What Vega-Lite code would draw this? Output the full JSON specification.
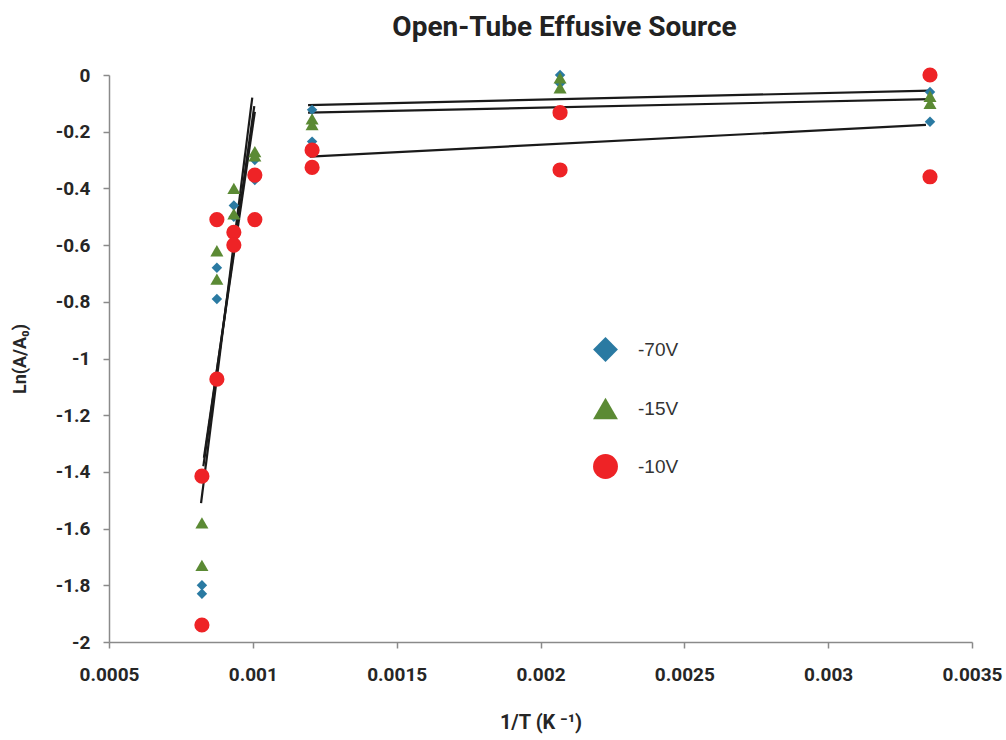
{
  "$schema": "https://vega.github.io/schema/vega-lite/v6.json",
  "autosize": {"type": "none"},
  "width": 863,
  "height": 567,
  "padding": {"left": 109, "top": 75, "right": 34, "bottom": 98},
  "background": "white",
  "config": {
    "view": {"stroke": null},
    "font": "Roboto, sans-serif"
  },
  "title": {
    "text": "Open-Tube Effusive Source",
    "font": "Roboto, sans-serif",
    "fontSize": 28,
    "fontWeight": "bold",
    "color": "#222222",
    "anchor": "middle",
    "dx": 24,
    "offset": 24
  },
  "datasets": {
    "pts": [
      {"s": "-70V", "x": 0.000823, "y": -1.80},
      {"s": "-70V", "x": 0.000823, "y": -1.83},
      {"s": "-70V", "x": 0.000875, "y": -0.68},
      {"s": "-70V", "x": 0.000875, "y": -0.79},
      {"s": "-70V", "x": 0.000934, "y": -0.46},
      {"s": "-70V", "x": 0.000934, "y": -0.50},
      {"s": "-70V", "x": 0.001007, "y": -0.30},
      {"s": "-70V", "x": 0.001007, "y": -0.37},
      {"s": "-70V", "x": 0.001206, "y": -0.123},
      {"s": "-70V", "x": 0.001206, "y": -0.235},
      {"s": "-70V", "x": 0.002068, "y": 0.0},
      {"s": "-70V", "x": 0.002068, "y": -0.03},
      {"s": "-70V", "x": 0.003354, "y": -0.06},
      {"s": "-70V", "x": 0.003354, "y": -0.165},
      {"s": "-15V", "x": 0.000823, "y": -1.58},
      {"s": "-15V", "x": 0.000823, "y": -1.73},
      {"s": "-15V", "x": 0.000875, "y": -0.62},
      {"s": "-15V", "x": 0.000875, "y": -0.72},
      {"s": "-15V", "x": 0.000934, "y": -0.40},
      {"s": "-15V", "x": 0.000934, "y": -0.49},
      {"s": "-15V", "x": 0.001007, "y": -0.27},
      {"s": "-15V", "x": 0.001007, "y": -0.285},
      {"s": "-15V", "x": 0.001206, "y": -0.155},
      {"s": "-15V", "x": 0.001206, "y": -0.175},
      {"s": "-15V", "x": 0.002068, "y": -0.01},
      {"s": "-15V", "x": 0.002068, "y": -0.045},
      {"s": "-15V", "x": 0.003354, "y": -0.075},
      {"s": "-15V", "x": 0.003354, "y": -0.10},
      {"s": "-10V", "x": 0.000823, "y": -1.415},
      {"s": "-10V", "x": 0.000823, "y": -1.94},
      {"s": "-10V", "x": 0.000875, "y": -0.51},
      {"s": "-10V", "x": 0.000875, "y": -1.073},
      {"s": "-10V", "x": 0.000934, "y": -0.555},
      {"s": "-10V", "x": 0.000934, "y": -0.60},
      {"s": "-10V", "x": 0.001007, "y": -0.353},
      {"s": "-10V", "x": 0.001007, "y": -0.51},
      {"s": "-10V", "x": 0.001206, "y": -0.265},
      {"s": "-10V", "x": 0.001206, "y": -0.326},
      {"s": "-10V", "x": 0.002068, "y": -0.133},
      {"s": "-10V", "x": 0.002068, "y": -0.335},
      {"s": "-10V", "x": 0.003354, "y": 0.0},
      {"s": "-10V", "x": 0.003354, "y": -0.359}
    ],
    "trends": [
      {"t": "A", "x": 0.00082, "y": -1.51},
      {"t": "A", "x": 0.000998, "y": -0.08},
      {"t": "B", "x": 0.000828, "y": -1.38},
      {"t": "B", "x": 0.001005, "y": -0.11},
      {"t": "C", "x": 0.00083, "y": -1.35},
      {"t": "C", "x": 0.001007, "y": -0.13},
      {"t": "D", "x": 0.001192, "y": -0.106},
      {"t": "D", "x": 0.003354, "y": -0.055},
      {"t": "E", "x": 0.001192, "y": -0.133},
      {"t": "E", "x": 0.003354, "y": -0.085},
      {"t": "F", "x": 0.001198, "y": -0.288},
      {"t": "F", "x": 0.003340, "y": -0.176}
    ]
  },
  "encoding": {
    "x": {
      "field": "x",
      "type": "quantitative",
      "scale": {"domain": [0.0005, 0.0035], "nice": false, "zero": false},
      "axis": {
        "title": "1/T (K ⁻¹)",
        "values": [0.0005, 0.001, 0.0015, 0.002, 0.0025, 0.003, 0.0035],
        "format": "~g",
        "grid": false,
        "domainColor": "#8a8a8a",
        "domainWidth": 1.5,
        "tickColor": "#8a8a8a",
        "tickWidth": 1.5,
        "tickSize": 6,
        "labelFont": "Roboto, sans-serif",
        "labelFontSize": 19,
        "labelFontWeight": "bold",
        "labelColor": "#262626",
        "labelPadding": 17,
        "labelFlush": false,
        "titleFont": "Roboto, sans-serif",
        "titleFontSize": 20,
        "titleFontWeight": "bold",
        "titleColor": "#262626",
        "titlePadding": 28
      }
    },
    "y": {
      "field": "y",
      "type": "quantitative",
      "scale": {"domain": [-2, 0], "nice": false, "zero": false},
      "axis": {
        "title": "Ln(A/A₀)",
        "values": [0, -0.2, -0.4, -0.6, -0.8, -1, -1.2, -1.4, -1.6, -1.8, -2],
        "labelExpr": "replace(format(datum.value, '~g'), '−', '-')",
        "grid": false,
        "domainColor": "#8a8a8a",
        "domainWidth": 1.5,
        "tickColor": "#8a8a8a",
        "tickWidth": 1.5,
        "tickSize": 6,
        "labelFont": "Roboto, sans-serif",
        "labelFontSize": 19,
        "labelFontWeight": "bold",
        "labelColor": "#262626",
        "labelPadding": 13,
        "labelFlush": false,
        "titleFont": "Roboto, sans-serif",
        "titleFontSize": 18,
        "titleFontWeight": "bold",
        "titleColor": "#262626",
        "titlePadding": 26
      }
    }
  },
  "layer": [
    {
      "data": {"name": "trends"},
      "mark": {"type": "line", "color": "#1a1a1a", "strokeWidth": 2.2},
      "encoding": {"detail": {"field": "t"}}
    },
    {
      "data": {"name": "pts"},
      "mark": {"type": "point", "filled": true, "opacity": 1, "strokeWidth": 0},
      "encoding": {
        "color": {
          "field": "s",
          "type": "nominal",
          "scale": {"domain": ["-70V", "-15V", "-10V"], "range": ["#2a7aa2", "#5b8a34", "#ee2326"]},
          "legend": {
            "title": null,
            "orient": "none",
            "legendX": 483,
            "legendY": 261,
            "symbolSize": 620,
            "rowPadding": 33,
            "labelOffset": 19,
            "labelFont": "Liberation Sans, Arial, sans-serif",
            "labelFontSize": 19,
            "labelColor": "#333333"
          }
        },
        "shape": {
          "field": "s",
          "type": "nominal",
          "scale": {"domain": ["-70V", "-15V", "-10V"], "range": ["diamond", "triangle-up", "circle"]}
        },
        "size": {
          "condition": [
            {"test": "datum.s === '-70V'", "value": 110},
            {"test": "datum.s === '-15V'", "value": 170}
          ],
          "value": 230
        }
      }
    }
  ]
}
